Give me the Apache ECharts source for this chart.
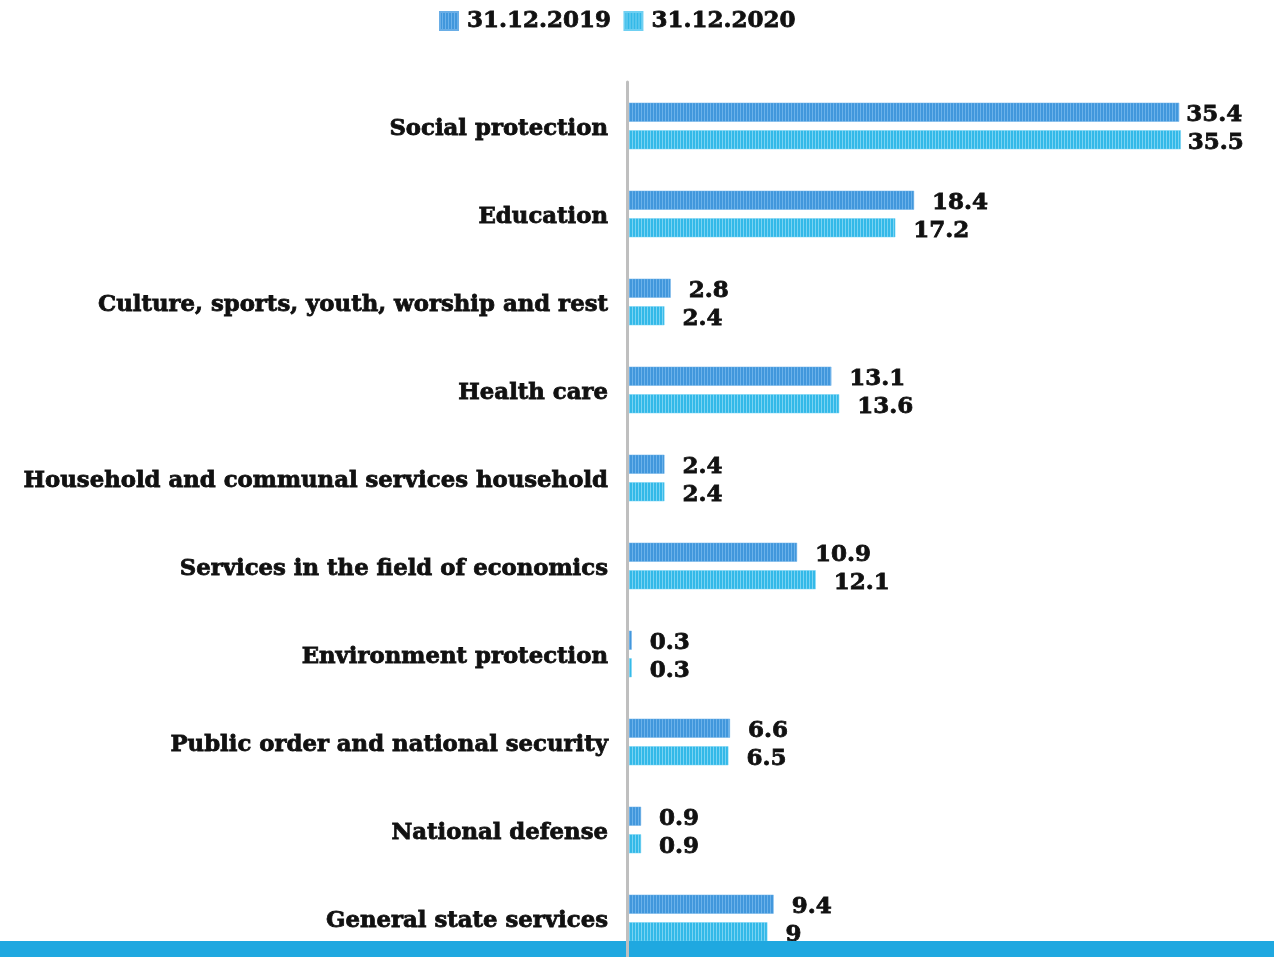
<!DOCTYPE html>
<html>
<head>
<meta charset="utf-8">
<script src="https://cdn.jsdelivr.net/npm/echarts@6/dist/echarts.min.js"></script>
<style>
  html, body { margin: 0; padding: 0; background: #fff; overflow: hidden; }
  #chart { width: 1274px; height: 970px; }
</style>
</head>
<body>
<div id="chart"></div>
<script>
// Expenditure structure by function, percent of total
const categories = [
  'Social protection',
  'Education',
  'Culture, sports, youth, worship and rest',
  'Health care',
  'Household and communal services household',
  'Services in the field of economics',
  'Environment protection',
  'Public order and national security',
  'National defense',
  'General state services'
];
const seriesNames = ['31.12.2019', '31.12.2020'];
const values2019 = [35.4, 18.4, 2.8, 13.1, 2.4, 10.9, 0.3, 6.6, 0.9, 9.4];
const values2020 = [35.5, 17.2, 2.4, 13.6, 2.4, 12.1, 0.3, 6.5, 0.9, 9];

// Vertical pinstripe fill for the bars
function stripes(base, line) {
  const c = document.createElement('canvas');
  c.width = 3; c.height = 4;
  const g = c.getContext('2d');
  g.fillStyle = base; g.fillRect(0, 0, 3, 4);
  g.fillStyle = line; g.fillRect(2, 0, 1, 4);
  return { image: c, repeat: 'repeat' };
}
const fillDark = stripes('#4197dc', '#6cb2ea');
const fillLight = stripes('#33b9e8', '#7ad3f3');

const font = '"DejaVu Serif", serif';
const ink = '#111';
// bold text with a thin outline in the same colour for a heavier weight
const heavy = { fontFamily: font, fontWeight: 'bold', color: ink, textBorderColor: ink, textBorderWidth: 0.8 };

function labelFor(v) {
  return v >= 30 ? { distance: 7 } : {};
}

const chart = echarts.init(document.getElementById('chart'), null, { renderer: 'canvas' });
chart.setOption({
  animation: false,
  textStyle: { fontFamily: font },
  legend: {
    top: 4,
    left: 434,
    itemWidth: 18,
    itemHeight: 18,
    itemGap: 12,
    icon: 'rect',
    textStyle: Object.assign({ fontSize: 23, padding: [0, 0, 0, 4] }, heavy),
    data: seriesNames
  },
  grid: { left: 627, top: 82, width: 624, height: 880, containLabel: false },
  xAxis: { type: 'value', min: 0, max: 40, show: false },
  yAxis: {
    type: 'category',
    data: categories,
    inverse: true,
    z: 10,
    axisLine: { show: true, lineStyle: { color: '#bfbfbf', width: 3 } },
    axisTick: { show: false },
    axisLabel: {
      margin: 19,
      formatter: v => '{c|' + v + '}',
      rich: { c: Object.assign({ fontSize: 22.8, padding: [6, 0, 0, 0] }, heavy) }
    }
  },
  series: [
    {
      name: seriesNames[0], type: 'bar', barWidth: 19, barGap: '45%',
      itemStyle: { color: fillDark, borderColor: '#6aaee6', borderWidth: 0.5 },
      label: Object.assign({ show: true, position: 'right', distance: 18, offset: [0, 3], fontSize: 23 }, heavy),
      data: values2019.map(v => ({ value: v, label: labelFor(v) }))
    },
    {
      name: seriesNames[1], type: 'bar', barWidth: 19,
      itemStyle: { color: fillLight, borderColor: '#6fd0f2', borderWidth: 0.5 },
      label: Object.assign({ show: true, position: 'right', distance: 18, offset: [0, 3], fontSize: 23 }, heavy),
      data: values2020.map(v => ({ value: v, label: labelFor(v) }))
    }
  ],
  graphic: [{
    type: 'rect', z: 5,
    shape: { x: 0, y: 941, width: 1274, height: 16 },
    style: { fill: '#1fa8e0' }
  }]
});
</script>
</body>
</html>
